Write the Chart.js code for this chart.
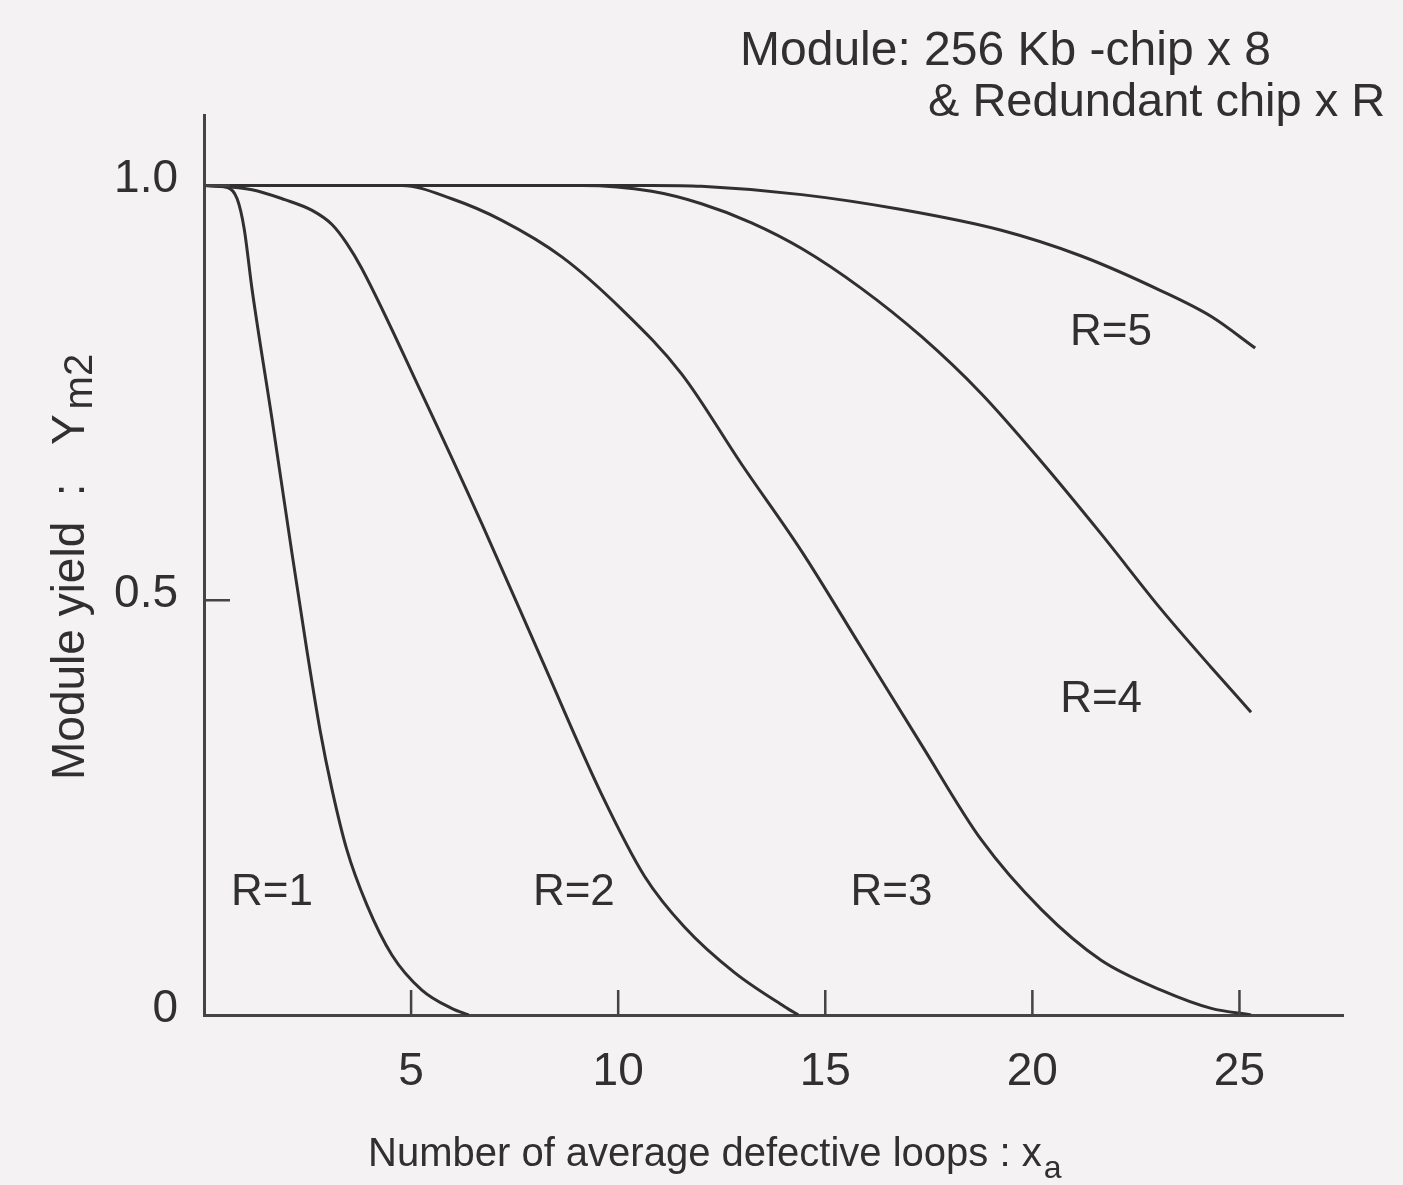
<!DOCTYPE html>
<html>
<head>
<meta charset="utf-8">
<script src="https://cdn.jsdelivr.net/npm/chart.js@4.4.1/dist/chart.umd.min.js"></script>
<style>
  html, body { margin: 0; padding: 0; background: #f4f2f2; }
  canvas { display: block; }
</style>
</head>
<body>
<canvas id="chart" width="1403" height="1185"></canvas>
<script>
// module yield Ym2 vs. number of average defective loops xa, one curve per R
const r1X = [0, 0.55, 0.8, 0.97, 1.16, 1.64, 2.12, 2.48, 2.8, 3.09, 3.45, 3.93, 4.54, 5.26, 5.98, 6.39];
const r1Y = [1.0, 0.998, 0.984, 0.948, 0.875, 0.719, 0.558, 0.441, 0.344, 0.272, 0.199, 0.133, 0.072, 0.03, 0.008, 0];

const r2X = [0, 1.16, 1.95, 2.61, 3.09, 3.45, 3.81, 5.26, 6.71, 8.15, 9.6, 10.64, 11.6, 12.81, 14.02, 14.35];
const r2Y = [1.0, 0.995, 0.983, 0.97, 0.953, 0.93, 0.9, 0.749, 0.592, 0.429, 0.266, 0.167, 0.106, 0.051, 0.01, 0];

const r3X = [0, 4.78, 5.98, 7.19, 8.64, 10.08, 11.53, 12.98, 14.43, 15.87, 17.32, 18.77, 20.22, 21.66, 23.11, 24.32, 25.28];
const r3Y = [1.0, 1.0, 0.984, 0.958, 0.914, 0.851, 0.773, 0.664, 0.559, 0.443, 0.326, 0.211, 0.127, 0.066, 0.03, 0.008, 0];

const r4X = [0, 9.12, 10.81, 12.01, 13.22, 14.43, 15.87, 17.32, 18.77, 20.22, 21.66, 23.11, 24.32, 25.28];
const r4Y = [1.0, 1.0, 0.993, 0.978, 0.955, 0.924, 0.876, 0.818, 0.749, 0.667, 0.58, 0.489, 0.419, 0.365];

const r5X = [0, 10.81, 12.01, 14.43, 16.84, 19.25, 21.18, 23.11, 24.32, 25.38];
const r5Y = [1.0, 1.0, 0.999, 0.989, 0.971, 0.946, 0.915, 0.873, 0.842, 0.804];

const curveNames = ['R=1', 'R=2', 'R=3', 'R=4', 'R=5'];
const xTicks = [5, 10, 15, 20, 25];
const yTicks = [0, 0.5, 1.0];
const yTickLabels = ['0', '0.5', '1.0'];

// where the R=.. labels sit, in data units
const labelAtX = [1.64, 8.93, 16.6, 21.66, 21.9];
const labelAtY = [0.147, 0.147, 0.147, 0.38, 0.822];

const INK = '#303030';
const AXIS = '#444444';
const FONT = '"Liberation Sans", Arial, sans-serif';

const toPoints = (xs, ys) => xs.map((x, i) => ({ x, y: ys[i] }));

const series = [[r1X, r1Y], [r2X, r2Y], [r3X, r3Y], [r4X, r4Y], [r5X, r5Y]];

const datasets = series.map(([xs, ys], i) => ({
  label: curveNames[i],
  data: toPoints(xs, ys),
  borderColor: INK,
  borderWidth: 3,
  pointRadius: 0,
  fill: false,
  cubicInterpolationMode: 'monotone'
}));

const drawWithSub = (ctx, main, sub, x, y, size, subSize, drop, gap) => {
  ctx.font = `${size}px ${FONT}`;
  ctx.fillText(main, x, y);
  const w = ctx.measureText(main).width;
  ctx.font = `${subSize}px ${FONT}`;
  ctx.fillText(sub, x + w + gap, y + drop);
};

const figureText = {
  id: 'figureText',
  afterDraw(chart) {
    const { ctx, chartArea, scales } = chart;
    const xs = scales.x;
    const ys = scales.y;
    ctx.save();

    // inward tick marks
    ctx.strokeStyle = AXIS;
    ctx.lineWidth = 2.5;
    ctx.beginPath();
    xTicks.forEach(v => {
      const px = xs.getPixelForValue(v);
      ctx.moveTo(px, chartArea.bottom);
      ctx.lineTo(px, chartArea.bottom - 25);
    });
    yTicks.slice(1).forEach(v => {
      const py = ys.getPixelForValue(v);
      ctx.moveTo(chartArea.left, py);
      ctx.lineTo(chartArea.left + 26, py);
    });
    ctx.stroke();

    ctx.fillStyle = INK;

    // curve labels
    ctx.font = `44px ${FONT}`;
    ctx.textAlign = 'center';
    ctx.textBaseline = 'middle';
    curveNames.forEach((name, i) => {
      ctx.fillText(name, xs.getPixelForValue(labelAtX[i]), ys.getPixelForValue(labelAtY[i]));
    });

    // header note
    ctx.textAlign = 'left';
    ctx.textBaseline = 'alphabetic';
    ctx.font = `48px ${FONT}`;
    ctx.fillText('Module: 256 Kb -chip x 8', 740, 65);
    ctx.font = `47px ${FONT}`;
    ctx.fillText('& Redundant chip x R', 928, 116);

    // axis titles
    drawWithSub(ctx, 'Number of average defective loops : x', 'a', 368, 1166, 40, 32, 12, 2);

    ctx.translate(84, 780);
    ctx.rotate(-Math.PI / 2);
    drawWithSub(ctx, 'Module yield  :   Y', 'm2', 0, 0, 46, 40, 8, 5);

    ctx.restore();
  }
};

new Chart(document.getElementById('chart'), {
  type: 'line',
  data: { datasets },
  options: {
    responsive: false,
    animation: false,
    layout: { padding: { top: 115, right: 60, left: 0, bottom: 0 } },
    plugins: {
      legend: { display: false },
      title: { display: false },
      tooltip: { enabled: false }
    },
    scales: {
      x: {
        type: 'linear',
        min: 0,
        max: 27.5,
        afterFit: s => { s.height = 170; },
        afterBuildTicks: s => { s.ticks = xTicks.map(v => ({ value: v })); },
        grid: { display: false, drawTicks: false },
        border: { display: true, color: AXIS, width: 3 },
        ticks: {
          color: INK,
          font: { family: FONT, size: 46 },
          padding: 30,
          maxRotation: 0,
          callback: v => String(v)
        }
      },
      y: {
        type: 'linear',
        min: 0,
        max: 1.085,
        afterFit: s => { s.width = 204; },
        afterBuildTicks: s => { s.ticks = yTicks.map(v => ({ value: v })); },
        grid: { display: false, drawTicks: false },
        border: { display: true, color: AXIS, width: 3 },
        ticks: {
          color: INK,
          font: { family: FONT, size: 46 },
          padding: 26,
          labelOffset: -6,
          callback: (v, i) => yTickLabels[i]
        }
      }
    }
  },
  plugins: [figureText]
});
</script>
</body>
</html>
